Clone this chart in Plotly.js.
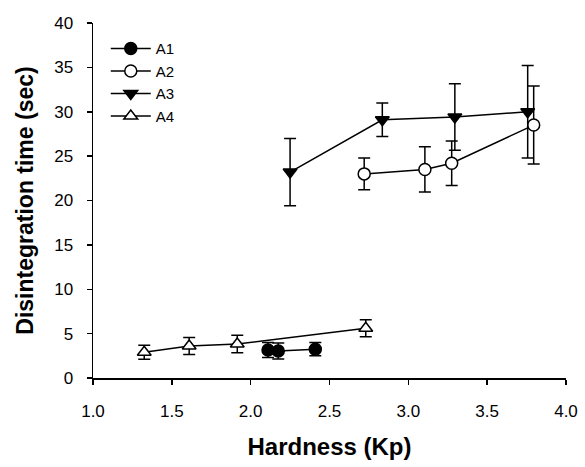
<!DOCTYPE html>
<html>
<head>
<meta charset="utf-8">
<script src="https://cdn.plot.ly/plotly-3.0.1.min.js"></script>
<style>html,body{margin:0;padding:0;background:#fff;}#chart{width:585px;height:467px;}</style>
</head>
<body>
<div id="chart"></div>
<script>
const seriesNames = ["A1", "A2", "A3", "A4"];

const A1_x = [2.11, 2.175, 2.41];
const A1_y = [3.15, 3.05, 3.25];
const A1_err = [0.85, 0.9, 0.75];

const A2_x = [2.72, 3.105, 3.275, 3.795];
const A2_y = [23.0, 23.5, 24.2, 28.5];
const A2_err = [1.8, 2.55, 2.5, 4.4];

const A3_x = [2.25, 2.835, 3.295, 3.757];
const A3_y = [23.2, 29.1, 29.4, 30.0];
const A3_err = [3.8, 1.9, 3.75, 5.2];

const A4_x = [1.325, 1.61, 1.915, 2.73];
const A4_y = [2.9, 3.6, 3.83, 5.6];
const A4_err = [0.8, 0.95, 0.98, 0.95];

const xTicks = [1.0, 1.5, 2.0, 2.5, 3.0, 3.5, 4.0];
const xTickText = ["1.0", "1.5", "2.0", "2.5", "3.0", "3.5", "4.0"];
const yTicks = [0, 5, 10, 15, 20, 25, 30, 35, 40];

const FONT = "Liberation Sans, Arial, sans-serif";

function mk(name, x, y, err, symbol, fill) {
  return {
    type: "scatter", mode: "lines+markers", name: name, x: x, y: y,
    line: {color: "#000", width: 1.5},
    marker: {symbol: symbol, size: 12, color: fill, line: {color: "#000", width: 1.5}},
    error_y: {type: "data", array: err, visible: true, color: "#000", thickness: 1.5, width: 6},
    cliponaxis: false
  };
}

const data = [
  mk(seriesNames[0], A1_x, A1_y, A1_err, "circle", "#000"),
  mk(seriesNames[1], A2_x, A2_y, A2_err, "circle", "#fff"),
  mk(seriesNames[2], A3_x, A3_y, A3_err, "triangle-down", "#000"),
  mk(seriesNames[3], A4_x, A4_y, A4_err, "triangle-up", "#fff")
];

const layout = {
  width: 585, height: 467,
  margin: {l: 93, r: 19, t: 23, b: 89},
  paper_bgcolor: "#fff", plot_bgcolor: "#fff",
  font: {family: FONT, color: "#000", size: 17},
  showlegend: true,
  legend: {
    x: 0.027, y: 0.974, xanchor: "left", yanchor: "top",
    bgcolor: "rgba(0,0,0,0)", borderwidth: 0,
    font: {family: FONT, size: 15, color: "#000"},
    itemwidth: 40,
    tracegroupgap: 0
  },
  xaxis: {
    range: [1.0, 4.0], tickvals: xTicks, ticktext: xTickText,
    showgrid: false, zeroline: false, showline: true, linecolor: "#000", linewidth: 1.5,
    ticks: "outside", ticklen: 5, tickwidth: 1.5, tickcolor: "#000",
    ticklabelstandoff: 12,
    tickfont: {family: FONT, size: 17, color: "#000"},
    title: {text: "Hardness (Kp)", font: {family: FONT, size: 24, color: "#000", weight: "bold"}, standoff: 18}
  },
  yaxis: {
    range: [0, 40], tickvals: yTicks,
    showgrid: false, zeroline: false, showline: true, linecolor: "#000", linewidth: 1.5,
    ticks: "outside", ticklen: 5, tickwidth: 1.5, tickcolor: "#000",
    ticklabelstandoff: 10,
    tickfont: {family: FONT, size: 17, color: "#000"},
    title: {text: "Disintegration time (sec)", font: {family: FONT, size: 23, color: "#000", weight: "bold"}, standoff: 14}
  }
};

Plotly.newPlot("chart", data, layout, {displayModeBar: false, staticPlot: true});
</script>
</body>
</html>
